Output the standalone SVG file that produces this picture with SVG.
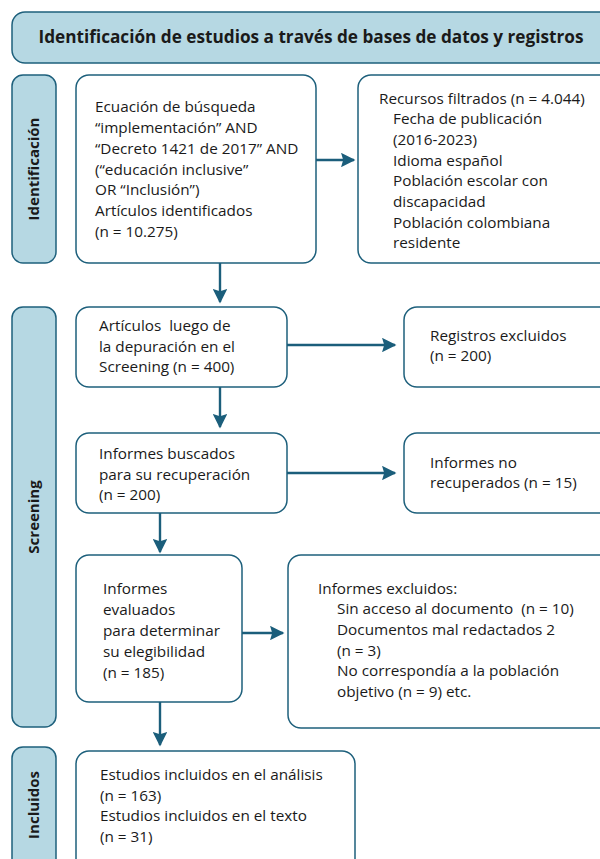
<svg xmlns="http://www.w3.org/2000/svg" width="600" height="859" viewBox="0 0 600 859">
<defs>
<style>
.lbl{fill:#b6d8e3;stroke:#1e607c;stroke-width:1.5}
.box{fill:#ffffff;stroke:#1e607c;stroke-width:1.5}
.t{font-family:"Open Sans","Noto Sans",sans-serif;font-size:15.3px;fill:#1a1a1a;white-space:pre}
.b{font-family:"Open Sans","Noto Sans",sans-serif;font-size:15px;font-weight:bold;fill:#1a1a1a}
.h{font-size:17.2px}
.c{stroke:#1b5e7b;stroke-width:2.4;fill:none;marker-end:url(#ah)}
</style>
<marker id="ah" viewBox="0 0 10 10" refX="9" refY="5" markerWidth="6.5" markerHeight="6" orient="auto" markerUnits="strokeWidth">
<path d="M0,0 L10,5 L0,10 L1.5,5 Z" fill="#1b5e7b"/>
</marker>
</defs>
<g id="header">
<rect class="lbl" x="12" y="12" width="610" height="51" rx="13"/>
<text class="b h" x="311" y="43" text-anchor="middle">Identificación de estudios a través de bases de datos y registros</text>
</g>
<g id="stage-identificacion">
<rect class="lbl" x="12" y="75" width="44" height="188" rx="11"/>
<text class="b" transform="translate(39,169) rotate(-90)" text-anchor="middle">Identificación</text>
</g>
<g id="stage-screening">
<rect class="lbl" x="12" y="307" width="44" height="420" rx="11"/>
<text class="b" transform="translate(39,517) rotate(-90)" text-anchor="middle">Screening</text>
</g>
<g id="stage-incluidos">
<rect class="lbl" x="12" y="747" width="44" height="130" rx="11"/>
<text class="b" transform="translate(39,805) rotate(-90)" text-anchor="middle">Incluidos</text>
</g>
<g id="n1">
<rect class="box" x="76" y="75" width="240" height="188" rx="13"/>
<text class="t"><tspan x="95" y="112">Ecuación de búsqueda</tspan><tspan x="95" y="133">“implementación” AND</tspan><tspan x="95" y="154">“Decreto 1421 de 2017” AND</tspan><tspan x="95" y="175">(“educación inclusive”</tspan><tspan x="95" y="195">OR “Inclusión”)</tspan><tspan x="95" y="216">Artículos identificados</tspan><tspan x="95" y="237">(n = 10.275)</tspan></text>
</g>
<g id="n2">
<rect class="box" x="358" y="75" width="260" height="188" rx="13"/>
<text class="t"><tspan x="379" y="104">Recursos filtrados (n = 4.044)</tspan><tspan x="393" y="124">Fecha de publicación</tspan><tspan x="393" y="145">(2016-2023)</tspan><tspan x="393" y="166">Idioma español</tspan><tspan x="393" y="186">Población escolar con</tspan><tspan x="393" y="207">discapacidad</tspan><tspan x="393" y="228">Población colombiana</tspan><tspan x="393" y="248">residente</tspan></text>
</g>
<g id="n3">
<rect class="box" x="76" y="307" width="211" height="80" rx="13"/>
<text class="t"><tspan x="99" y="331">Artículos  luego de</tspan><tspan x="99" y="352">la depuración en el</tspan><tspan x="99" y="372">Screening (n = 400)</tspan></text>
</g>
<g id="n4">
<rect class="box" x="404" y="307" width="214" height="80" rx="13"/>
<text class="t"><tspan x="430" y="341">Registros excluidos</tspan><tspan x="430" y="361">(n = 200)</tspan></text>
</g>
<g id="n5">
<rect class="box" x="76" y="433" width="211" height="80" rx="13"/>
<text class="t"><tspan x="99" y="459">Informes buscados</tspan><tspan x="99" y="480">para su recuperación</tspan><tspan x="99" y="500">(n = 200)</tspan></text>
</g>
<g id="n6">
<rect class="box" x="404" y="433" width="214" height="80" rx="13"/>
<text class="t"><tspan x="430" y="468">Informes no</tspan><tspan x="430" y="488">recuperados (n = 15)</tspan></text>
</g>
<g id="n7">
<rect class="box" x="76" y="555" width="166" height="147" rx="13"/>
<text class="t"><tspan x="103" y="594">Informes</tspan><tspan x="103" y="615">evaluados</tspan><tspan x="103" y="636">para determinar</tspan><tspan x="103" y="657">su elegibilidad</tspan><tspan x="103" y="678">(n = 185)</tspan></text>
</g>
<g id="n8">
<rect class="box" x="288" y="555" width="330" height="173" rx="13"/>
<text class="t"><tspan x="318" y="594">Informes excluidos:</tspan><tspan x="337" y="614">Sin acceso al documento  (n = 10)</tspan><tspan x="337" y="635">Documentos mal redactados 2</tspan><tspan x="337" y="656">(n = 3)</tspan><tspan x="337" y="676">No correspondía a la población</tspan><tspan x="337" y="697">objetivo (n = 9) etc.</tspan></text>
</g>
<g id="n9">
<rect class="box" x="76" y="751" width="279" height="130" rx="13"/>
<text class="t"><tspan x="100" y="780">Estudios incluidos en el análisis</tspan><tspan x="100" y="801">(n = 163)</tspan><tspan x="100" y="821">Estudios incluidos en el texto</tspan><tspan x="100" y="842">(n = 31)</tspan></text>
</g>
<g id="connectors">
<path class="c" d="M316,160 H354"/>
<path class="c" d="M220,263 V302"/>
<path class="c" d="M287,345 H395"/>
<path class="c" d="M220,387 V427"/>
<path class="c" d="M287,473 H395"/>
<path class="c" d="M160,513 V552"/>
<path class="c" d="M242,633 H283"/>
<path class="c" d="M160,702 V745"/>
</g>
</svg>
